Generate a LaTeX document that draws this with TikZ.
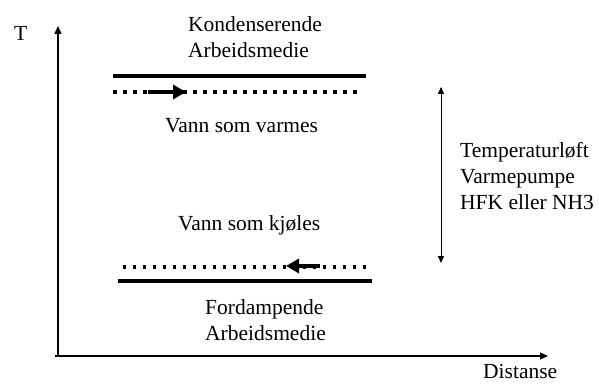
\documentclass[tikz,border=0pt]{standalone}
\usepackage{fontspec}
\setmainfont{Liberation Serif}
\usetikzlibrary{arrows.meta}
\begin{document}
\begin{tikzpicture}[x=1pt,y=-1pt,
  lbl/.style={font=\fontsize{21.5}{26}\selectfont, inner sep=0pt, align=left, anchor=west},
  axis/.style={line width=1.3pt, -{Triangle[length=8pt,width=7pt]}},
  solidline/.style={line width=3.5pt},
  dotline/.style={line width=3.5pt, dash pattern=on 3.5pt off 6.5pt},
  flow/.style={line width=3.5pt, -{Triangle[length=13pt,width=14pt]}},
  span/.style={line width=1pt, {Triangle[length=7pt,width=6pt]}-{Triangle[length=7pt,width=6pt]}}]
\useasboundingbox (0,0) rectangle (599,385);
% axes
\coordinate (o) at (58,356);
\coordinate (ytop) at (58,26);
\coordinate (xend) at (548,356);
\draw[axis] (o) -- (ytop);
\draw[axis] (55,356) -- (xend);
\node[lbl] (T) at (14,33) {T};
\node[lbl, anchor=base west] (dist) at (483,378) {Distanse};
% top
\node[lbl] (kond) at (188,37) {Kondenserende\\Arbeidsmedie};
\coordinate (s1a) at (113,76);
\coordinate (s1b) at (366,76);
\draw[solidline] (s1a) -- (s1b);
\coordinate (d1a) at (113,92);
\coordinate (d1b) at (360,92);
\draw[dotline] (d1a) -- (d1b);
\coordinate (f1a) at (148,92);
\coordinate (f1b) at (186,92);
\draw[flow] (f1a) -- (f1b);
\node[lbl] (varm) at (165,126) {Vann som varmes};
% span arrow
\coordinate (pa) at (441,87);
\coordinate (pb) at (441,263);
\draw[span] (pa) -- (pb);
\node[lbl] (tl) at (460,176) {Temperaturløft\\Varmepumpe\\HFK eller NH3};
% bottom
\node[lbl] (kjol) at (178,225) {Vann som kjøles};
\coordinate (d2a) at (120,267);
\coordinate (d2b) at (366,267);
\draw[dotline] (d2b) -- (d2a);
\coordinate (f2a) at (320,266);
\coordinate (f2b) at (286,266);
\draw[flow] (f2a) -- (f2b);
\coordinate (s2a) at (118,281);
\coordinate (s2b) at (372,281);
\draw[solidline] (s2a) -- (s2b);
\node[lbl] (ford) at (205,320) {Fordampende\\Arbeidsmedie};
\end{tikzpicture}
\end{document}
